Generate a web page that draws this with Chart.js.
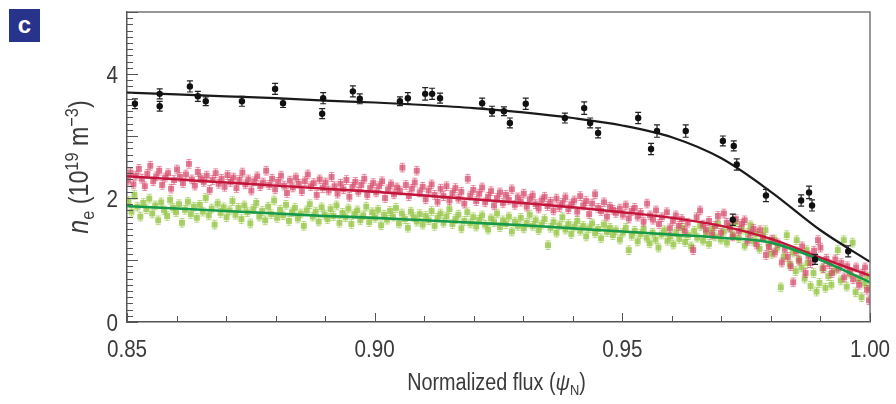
<!DOCTYPE html>
<html>
<head>
<meta charset="utf-8">
<script src="https://cdn.jsdelivr.net/npm/chart.js@4/dist/chart.umd.min.js"></script>
<style>
  html, body { margin: 0; padding: 0; background: #fff; }
  #wrap { position: relative; width: 896px; height: 404px; }
  #panel {
    position: absolute; left: 9px; top: 9px; width: 31px; height: 33px;
    background: #28338c; color: #fff; font: bold 24px "Liberation Sans", Arial, sans-serif;
    text-align: center; line-height: 31px;
  }
  canvas { position: absolute; left: 0; top: 0; }
</style>
</head>
<body>
<div id="wrap">
  <canvas id="c" width="896" height="404"></canvas>
  <div id="panel">c</div>
</div>
<script>
// Axis ranges and labelled ticks
const xRange = [0.85, 1.00];
const yRange = [0, 5];
const xTickValues = [0.85, 0.90, 0.95, 1.00];
const yTickValues = [0, 2, 4];
const xMinorStep = 0.01;
const yMinorStep = 0.1;

// Black profile: flux, density, error
const blackFlux = [0.8516,0.8566,0.8566,0.8627,0.8643,0.8659,0.8732,0.8799,0.8815,0.8896,0.8894,0.8956,0.8970,0.9051,0.9067,0.9102,0.9116,0.9132,0.9217,0.9237,0.9261,0.9273,0.9305,0.9384,0.9423,0.9435,0.9451,0.9532,0.9570,0.9558,0.9628,0.9703,0.9725,0.9731,0.9723,0.9790,0.9861,0.9877,0.9883,0.9889,0.9956];
const blackNe   = [3.52,3.68,3.48,3.80,3.64,3.56,3.56,3.76,3.53,3.61,3.36,3.72,3.60,3.56,3.61,3.68,3.68,3.61,3.53,3.40,3.40,3.21,3.52,3.29,3.45,3.21,3.05,3.29,3.08,2.79,3.08,2.92,2.84,2.54,1.65,2.04,1.96,2.09,1.88,1.01,1.14];
const blackErr  = [0.08,0.08,0.08,0.09,0.08,0.07,0.08,0.09,0.07,0.09,0.08,0.09,0.08,0.07,0.09,0.10,0.09,0.08,0.08,0.08,0.07,0.08,0.09,0.08,0.10,0.08,0.08,0.09,0.10,0.09,0.10,0.08,0.08,0.09,0.09,0.10,0.09,0.10,0.09,0.08,0.09];

// Fitted profiles
const fitFlux  = [0.85,0.86,0.87,0.88,0.89,0.90,0.91,0.92,0.93,0.94,0.95,0.96,0.97,0.98,0.99,1.00];
const blackFit = [3.70,3.67,3.64,3.61,3.57,3.54,3.50,3.45,3.38,3.29,3.17,2.98,2.64,2.10,1.48,0.97];
const redFit   = [2.35,2.30,2.25,2.20,2.15,2.10,2.04,1.98,1.92,1.85,1.77,1.68,1.55,1.34,1.04,0.75];
const greenFit = [1.87,1.83,1.79,1.75,1.71,1.68,1.64,1.60,1.56,1.51,1.46,1.41,1.36,1.28,1.00,0.64];

// Red profile measurements [flux, density]
const redPoints = [
[0.8502,2.28],[0.8507,2.41],[0.8513,2.22],[0.8518,2.36],[0.8524,2.47],[0.8530,2.31],[0.8536,2.19],[0.8541,2.39],[0.8547,2.52],[0.8553,2.27],[0.8559,2.35],[0.8565,2.44],[0.8571,2.21],[0.8577,2.33],[0.8583,2.40],[0.8589,2.15],[0.8595,2.29],[0.8601,2.46],[0.8607,2.34],[0.8613,2.24],[0.8619,2.38],[0.8625,2.55],[0.8631,2.30],[0.8637,2.20],[0.8643,2.42],[0.8649,2.32],[0.8655,2.26],[0.8661,2.36],[0.8667,2.13],[0.8673,2.29],[0.8679,2.40],[0.8685,2.23],[0.8691,2.31],[0.8697,2.18],
[0.8703,2.37],[0.8709,2.26],[0.8715,2.33],[0.8721,2.16],[0.8727,2.29],[0.8733,2.41],[0.8739,2.22],[0.8745,2.30],[0.8751,2.12],[0.8757,2.27],[0.8763,2.35],[0.8769,2.19],[0.8775,2.25],[0.8781,2.44],[0.8787,2.21],[0.8793,2.31],[0.8799,2.14],[0.8805,2.26],[0.8811,2.36],[0.8817,2.20],[0.8823,2.08],[0.8829,2.28],[0.8835,2.17],[0.8841,2.33],[0.8847,2.23],[0.8853,2.11],[0.8859,2.27],[0.8865,2.38],[0.8871,2.19],[0.8877,2.24],[0.8883,2.05],[0.8889,2.30],[0.8895,2.16],
[0.8901,2.25],[0.8907,2.12],[0.8913,2.34],[0.8919,2.19],[0.8925,2.07],[0.8931,2.23],[0.8937,2.14],[0.8943,2.29],[0.8949,2.02],[0.8955,2.18],[0.8961,2.26],[0.8967,2.10],[0.8973,2.21],[0.8979,2.31],[0.8985,2.05],[0.8991,2.16],[0.8997,2.24],[0.9003,2.09],[0.9009,2.19],[0.9015,2.27],[0.9021,2.00],[0.9027,2.14],[0.9033,2.22],[0.9039,2.06],[0.9045,2.17],[0.9051,2.12],[0.9056,2.49],[0.9063,2.21],[0.9069,2.03],[0.9075,2.15],[0.9081,2.25],[0.9085,2.44],[0.9091,2.09],[0.9097,2.18],
[0.9103,1.98],[0.9109,2.12],[0.9115,2.22],[0.9121,2.05],[0.9127,1.94],[0.9133,2.15],[0.9139,2.03],[0.9145,2.19],[0.9151,1.96],[0.9157,2.08],[0.9163,2.16],[0.9169,1.99],[0.9175,2.10],[0.9181,1.91],[0.9188,2.31],[0.9193,2.04],[0.9199,2.13],[0.9205,1.95],[0.9211,2.07],[0.9217,2.17],[0.9223,1.93],[0.9229,2.02],[0.9235,2.11],[0.9241,1.88],[0.9247,2.00],[0.9253,2.09],[0.9259,1.92],[0.9265,2.05],[0.9271,1.97],[0.9277,2.14],[0.9283,1.89],[0.9289,2.01],[0.9295,1.94],
[0.9301,2.07],[0.9307,1.86],[0.9313,1.98],[0.9319,2.04],[0.9325,1.90],[0.9331,1.83],[0.9337,1.96],[0.9343,2.02],[0.9349,1.87],[0.9355,1.94],[0.9361,1.80],[0.9367,1.99],[0.9373,1.85],[0.9379,1.92],[0.9385,2.01],[0.9391,1.82],[0.9397,1.90],[0.9403,1.96],[0.9409,1.78],[0.9415,2.03],[0.9421,1.88],[0.9427,1.95],[0.9433,1.74],[0.9439,1.91],[0.9445,2.06],[0.9451,1.84],[0.9457,1.79],[0.9463,1.93],[0.9469,1.70],[0.9475,1.86],[0.9481,1.81],[0.9487,1.76],[0.9495,1.83],
[0.9501,1.73],[0.9507,1.88],[0.9513,1.67],[0.9519,1.79],[0.9525,1.84],[0.9531,1.70],[0.9537,1.76],[0.9543,1.62],[0.9550,1.91],[0.9556,1.72],[0.9562,1.65],[0.9568,1.80],[0.9574,1.58],[0.9580,1.69],[0.9590,1.77],[0.9596,1.51],[0.9602,1.63],[0.9608,1.72],[0.9614,1.55],[0.9620,1.66],[0.9626,1.47],[0.9632,1.60],[0.9643,1.16],[0.9650,1.69],[0.9657,1.80],[0.9663,1.57],[0.9669,1.49],[0.9675,1.63],[0.9681,1.41],[0.9687,1.55],[0.9693,1.71],[0.9699,1.44],
[0.9705,1.75],[0.9711,1.60],[0.9717,1.52],[0.9723,1.38],[0.9729,1.66],[0.9735,1.47],[0.9741,1.58],[0.9747,1.64],[0.9753,1.31],[0.9759,1.43],[0.9765,1.50],[0.9771,1.25],[0.9778,1.48],[0.9784,1.36],[0.9790,1.08],[0.9796,1.21],[0.9802,1.33],[0.9808,1.12],[0.9814,1.27],[0.9822,0.96],[0.9828,1.18],[0.9834,1.05],[0.9840,0.90],[0.9845,0.64],[0.9851,1.14],[0.9857,0.99],[0.9863,1.22],[0.9870,0.79],[0.9876,1.07],[0.9880,0.95],[0.9887,1.15],[0.9895,1.32],[0.9900,1.20],[0.9906,0.87],[0.9912,1.02],[0.9918,0.93],[0.9923,0.79],[0.9930,1.01],[0.9936,0.86],[0.9942,0.95],[0.9948,0.72],[0.9954,0.90],[0.9960,0.81],[0.9966,0.69],[0.9972,0.88],[0.9978,0.60],[0.9984,0.78],[0.9990,0.88],[0.9994,0.52],[0.9998,0.35]
];

// Green profile measurements [flux, density]
const greenPoints = [
[0.8503,1.95],[0.8509,1.78],[0.8515,2.05],[0.8521,1.86],[0.8527,1.70],[0.8533,1.92],[0.8539,1.82],[0.8545,1.99],[0.8551,1.75],[0.8557,1.88],[0.8563,1.64],[0.8569,1.93],[0.8575,1.80],[0.8581,1.71],[0.8587,1.97],[0.8593,1.84],[0.8599,1.77],[0.8605,1.90],[0.8611,1.60],[0.8617,1.81],[0.8623,1.94],[0.8629,1.74],[0.8635,1.86],[0.8641,1.68],[0.8647,1.89],[0.8653,1.78],[0.8659,2.00],[0.8665,1.72],[0.8671,1.83],[0.8677,1.57],[0.8683,1.91],[0.8689,1.76],[0.8695,1.85],
[0.8701,1.69],[0.8707,1.80],[0.8713,1.95],[0.8719,1.73],[0.8725,1.84],[0.8731,1.66],[0.8737,1.88],[0.8743,1.77],[0.8749,1.59],[0.8755,1.82],[0.8761,1.92],[0.8767,1.70],[0.8773,1.79],[0.8779,1.64],[0.8785,1.86],[0.8791,1.74],[0.8797,1.96],[0.8803,1.68],[0.8809,1.81],[0.8815,1.72],[0.8821,1.89],[0.8827,1.63],[0.8833,1.77],[0.8839,1.84],[0.8845,1.67],[0.8851,1.75],[0.8857,1.55],[0.8863,1.80],[0.8869,1.90],[0.8875,1.70],[0.8881,1.78],[0.8887,1.62],[0.8893,1.85],[0.8899,1.73],
[0.8905,1.66],[0.8911,1.82],[0.8917,1.71],[0.8923,1.88],[0.8929,1.60],[0.8935,1.76],[0.8941,1.69],[0.8947,1.83],[0.8953,1.58],[0.8959,1.74],[0.8965,1.80],[0.8971,1.64],[0.8977,1.72],[0.8983,1.86],[0.8989,1.61],[0.8995,1.77],[0.9001,1.68],[0.9007,1.81],[0.9013,1.56],[0.9019,1.73],[0.9025,1.65],[0.9031,1.79],[0.9037,1.70],[0.9043,1.84],[0.9049,1.59],[0.9055,1.75],[0.9061,1.66],[0.9067,1.52],[0.9073,1.78],[0.9079,1.69],[0.9085,1.62],[0.9091,1.74],[0.9097,1.57],
[0.9103,1.71],[0.9109,1.64],[0.9115,1.79],[0.9121,1.55],[0.9127,1.68],[0.9133,1.75],[0.9139,1.60],[0.9145,1.70],[0.9151,1.82],[0.9157,1.58],[0.9163,1.66],[0.9169,1.73],[0.9175,1.51],[0.9181,1.63],[0.9187,1.77],[0.9193,1.59],[0.9199,1.69],[0.9205,1.54],[0.9211,1.65],[0.9217,1.72],[0.9223,1.57],[0.9229,1.49],[0.9235,1.67],[0.9241,1.61],[0.9247,1.75],[0.9253,1.53],[0.9259,1.64],[0.9265,1.58],[0.9271,1.70],[0.9277,1.46],[0.9283,1.62],[0.9289,1.55],[0.9295,1.68],
[0.9301,1.51],[0.9307,1.60],[0.9313,1.73],[0.9319,1.55],[0.9325,1.64],[0.9331,1.48],[0.9337,1.57],[0.9343,1.66],[0.9350,1.24],[0.9355,1.52],[0.9361,1.61],[0.9367,1.44],[0.9373,1.56],[0.9379,1.69],[0.9385,1.49],[0.9391,1.58],[0.9397,1.42],[0.9403,1.54],[0.9409,1.63],[0.9415,1.47],[0.9421,1.55],[0.9427,1.38],[0.9433,1.51],[0.9439,1.59],[0.9445,1.43],[0.9451,1.50],[0.9457,1.35],[0.9463,1.57],[0.9469,1.45],[0.9475,1.52],[0.9481,1.40],[0.9487,1.48],[0.9495,1.33],
[0.9501,1.44],[0.9507,1.52],[0.9513,1.16],[0.9519,1.39],[0.9525,1.47],[0.9531,1.30],[0.9537,1.42],[0.9543,1.50],[0.9549,1.36],[0.9555,1.27],[0.9561,1.44],[0.9567,1.33],[0.9573,1.20],[0.9579,1.41],[0.9585,1.48],[0.9591,1.31],[0.9597,1.38],[0.9603,1.25],[0.9609,1.45],[0.9615,1.34],[0.9621,1.52],[0.9627,1.29],[0.9633,1.40],[0.9639,1.22],[0.9645,1.47],[0.9651,1.36],[0.9657,1.55],[0.9663,1.31],[0.9669,1.43],[0.9675,1.26],[0.9681,1.50],[0.9687,1.38],[0.9693,1.58],[0.9699,1.33],
[0.9705,1.46],[0.9711,1.28],[0.9717,1.53],[0.9723,1.40],[0.9729,1.61],[0.9735,1.35],[0.9741,1.49],[0.9747,1.23],[0.9753,1.44],[0.9759,1.56],[0.9765,1.30],[0.9771,1.42],[0.9777,1.18],[0.9783,1.37],[0.9789,1.48],[0.9795,1.26],[0.9801,1.10],[0.9807,1.33],[0.9813,1.20],[0.9820,0.56],[0.9826,1.05],[0.9832,1.40],[0.9838,0.93],[0.9844,1.12],[0.9850,0.82],[0.9852,1.32],[0.9856,1.01],[0.9862,0.88],[0.9868,0.70],[0.9872,1.16],[0.9874,0.95],[0.9880,0.58],[0.9886,0.79],[0.9892,0.49],[0.9898,0.63],[0.9904,0.86],[0.9910,0.55],[0.9916,0.74],[0.9922,0.60],[0.9928,0.83],[0.9935,1.16],[0.9941,0.67],[0.9947,1.32],[0.9953,0.57],[0.9959,0.78],[0.9965,1.28],[0.9971,0.48],[0.9977,0.69],[0.9983,0.40],[0.9989,0.62],[0.9995,0.73],[0.9999,0.55]
];
const redError = 0.07;
const greenError = 0.07;

const FONT = "'Liberation Sans', Arial, sans-serif";
const TEXT = '#3a3a3a';
const SQUEEZE = 0.86;   // condensed lettering

const toXY = (xs, ys) => xs.map((x, i) => ({ x, y: ys[i] }));
const pairs = pts => pts.map(p => ({ x: p[0], y: p[1] }));

// Vertical error bars, drawn just before each dataset's markers
const errorBars = {
  id: 'errorBars',
  beforeDatasetDraw(chart, args) {
    const ds = chart.data.datasets[args.index];
    if (ds.errorOf === undefined) return;
    const { ctx, chartArea: a, scales: { x, y } } = chart;
    ctx.save();
    ctx.beginPath();
    ctx.rect(a.left, a.top, a.right - a.left, a.bottom - a.top);
    ctx.clip();
    ctx.strokeStyle = ds.errorColor;
    ctx.lineWidth = ds.errorWidth;
    ds.data.forEach((p, i) => {
      const e = ds.errorOf(i);
      const px = x.getPixelForValue(p.x);
      const y1 = y.getPixelForValue(p.y - e);
      const y2 = y.getPixelForValue(p.y + e);
      const c = ds.capHalf;
      ctx.beginPath();
      ctx.moveTo(px, y1); ctx.lineTo(px, y2);
      ctx.moveTo(px - c, y1); ctx.lineTo(px + c, y1);
      ctx.moveTo(px - c, y2); ctx.lineTo(px + c, y2);
      ctx.stroke();
    });
    ctx.restore();
  }
};

// Text pieces laid out left to right, squeezed horizontally
function drawParts(ctx, parts, cx, baseY) {
  let w = 0;
  parts.forEach(p => { ctx.font = p.f; w += ctx.measureText(p.t).width; });
  ctx.save();
  ctx.translate(cx, baseY);
  ctx.scale(SQUEEZE, 1);
  let xx = -w / 2;
  parts.forEach(p => {
    ctx.font = p.f;
    ctx.fillText(p.t, xx, p.dy);
    xx += ctx.measureText(p.t).width;
  });
  ctx.restore();
}

// Box frame, inward tick marks, tick labels and axis titles
const frame = {
  id: 'frame',
  afterDraw(chart) {
    const { ctx, chartArea: a, scales: { x, y } } = chart;
    ctx.save();
    ctx.strokeStyle = '#777';
    ctx.lineWidth = 1.5;
    ctx.beginPath();
    ctx.moveTo(a.left, a.top); ctx.lineTo(a.right, a.top); ctx.lineTo(a.right, a.bottom);
    ctx.stroke();

    ctx.strokeStyle = '#555';
    ctx.lineWidth = 1;
    const nY = Math.round((yRange[1] - yRange[0]) / yMinorStep);
    for (let i = 0; i <= nY; i++) {
      const py = Math.round(y.getPixelForValue(yRange[0] + i * yMinorStep)) + 0.5;
      const len = i % 10 === 0 ? 11 : 6;
      ctx.beginPath(); ctx.moveTo(a.left, py); ctx.lineTo(a.left + len, py); ctx.stroke();
    }
    const nX = Math.round((xRange[1] - xRange[0]) / xMinorStep);
    for (let i = 0; i <= nX; i++) {
      const px = Math.round(x.getPixelForValue(xRange[0] + i * xMinorStep)) + 0.5;
      const len = i % 5 === 0 ? 9 : 6;
      ctx.beginPath(); ctx.moveTo(px, a.bottom); ctx.lineTo(px, a.bottom - len); ctx.stroke();
    }

    ctx.fillStyle = TEXT;
    ctx.textBaseline = 'alphabetic';
    const tickFont = `24px ${FONT}`;
    // x tick labels
    xTickValues.forEach(v => {
      drawParts(ctx, [{ t: v.toFixed(2), f: tickFont, dy: 0 }], x.getPixelForValue(v), a.bottom + 35);
    });
    // y tick labels, right-aligned
    yTickValues.forEach(v => {
      ctx.save();
      ctx.font = tickFont;
      const s = String(v);
      const w = ctx.measureText(s).width * SQUEEZE;
      ctx.restore();
      drawParts(ctx, [{ t: s, f: tickFont, dy: 0 }], a.left - 9 - w / 2, y.getPixelForValue(v) + 8.5);
    });

    // x title: Normalized flux (ψN)
    const xParts = [
      { t: 'Normalized flux (', f: `23px ${FONT}`, dy: 0 },
      { t: 'ψ', f: `italic 23px ${FONT}`, dy: 0 },
      { t: 'N', f: `15px ${FONT}`, dy: 5 },
      { t: ')', f: `23px ${FONT}`, dy: 0 }
    ];
    drawParts(ctx, xParts, (a.left + a.right) / 2 - 2, 390);

    // y title: ne (10^19 m^-3), rotated
    const yParts = [
      { t: 'n', f: `italic 29px ${FONT}`, dy: 0 },
      { t: 'e', f: `19px ${FONT}`, dy: 6 },
      { t: ' (10', f: `27px ${FONT}`, dy: 0 },
      { t: '19', f: `19px ${FONT}`, dy: -10 },
      { t: ' m', f: `27px ${FONT}`, dy: 0 },
      { t: '\u22123', f: `19px ${FONT}`, dy: -10 },
      { t: ')', f: `27px ${FONT}`, dy: 0 }
    ];
    ctx.translate(88, 167);
    ctx.rotate(-Math.PI / 2);
    drawParts(ctx, yParts, 0, 0);
    ctx.restore();
  }
};

new Chart(document.getElementById('c'), {
  type: 'scatter',
  data: {
    datasets: [
      {
        label: 'black data', data: toXY(blackFlux, blackNe), order: 0,
        pointStyle: 'circle', pointRadius: 3.2, backgroundColor: '#111', borderColor: '#111', borderWidth: 0,
        errorOf: i => blackErr[i], errorColor: '#222', errorWidth: 1.2, capHalf: 3
      },
      {
        label: 'black fit', type: 'line', data: toXY(fitFlux, blackFit), order: 1,
        borderColor: '#1a1a1a', borderWidth: 2.2, pointRadius: 0, tension: 0.4, cubicInterpolationMode: 'monotone', fill: false
      },
      {
        label: 'green fit', type: 'line', data: toXY(fitFlux, greenFit), order: 2,
        borderColor: '#17994a', borderWidth: 2.6, pointRadius: 0, tension: 0.4, cubicInterpolationMode: 'monotone', fill: false
      },
      {
        label: 'red fit', type: 'line', data: toXY(fitFlux, redFit), order: 3,
        borderColor: '#c3143a', borderWidth: 2.4, pointRadius: 0, tension: 0.4, cubicInterpolationMode: 'monotone', fill: false
      },
      {
        label: 'red data', data: pairs(redPoints), order: 4,
        pointStyle: 'rect', pointRadius: 4.2, backgroundColor: 'rgba(214,70,104,0.72)', borderWidth: 0,
        errorOf: () => redError, errorColor: 'rgba(214,70,104,0.6)', errorWidth: 1, capHalf: 2.5
      },
      {
        label: 'green data', data: pairs(greenPoints), order: 5,
        pointStyle: 'rect', pointRadius: 4.2, backgroundColor: 'rgba(150,198,70,0.8)', borderWidth: 0,
        errorOf: () => greenError, errorColor: 'rgba(150,198,70,0.65)', errorWidth: 1, capHalf: 2.5
      }
    ]
  },
  options: {
    responsive: false,
    animation: false,
    layout: { padding: { top: 12, right: 26, left: 0, bottom: 0 } },
    plugins: { legend: { display: false }, tooltip: { enabled: false } },
    scales: {
      x: {
        type: 'linear', min: xRange[0], max: xRange[1],
        afterBuildTicks: s => { s.ticks = xTickValues.map(v => ({ value: v })); },
        afterFit: s => { s.height = 82; },
        grid: { display: false },
        border: { display: true, color: '#555', width: 1.5 },
        ticks: { display: false }
      },
      y: {
        type: 'linear', min: yRange[0], max: yRange[1],
        afterBuildTicks: s => { s.ticks = yTickValues.map(v => ({ value: v })); },
        afterFit: s => { s.width = 127; },
        grid: { display: false },
        border: { display: true, color: '#555', width: 1.5 },
        ticks: { display: false }
      }
    }
  },
  plugins: [errorBars, frame]
});
</script>
</body>
</html>
